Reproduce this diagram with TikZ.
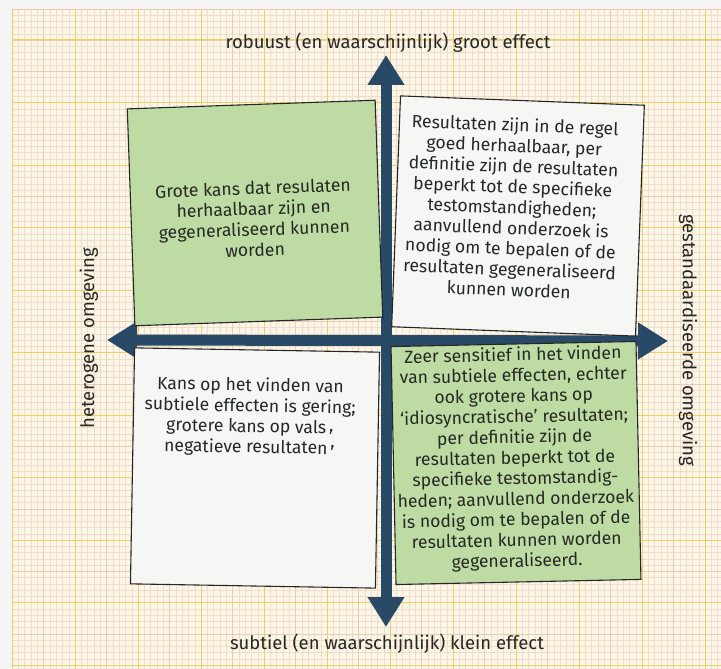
\documentclass[tikz,border=0pt]{standalone}
\usepackage{fontspec}
\setmainfont{Fira Sans}
\usetikzlibrary{arrows.meta, positioning}
\definecolor{paper}{RGB}{252, 246, 231}
\definecolor{gridminor}{RGB}{240, 220, 204}
\definecolor{gridmid}{RGB}{233, 204, 180}
\definecolor{gridmajor}{RGB}{242, 206, 104}
\definecolor{axisblue}{RGB}{41, 74, 103}
\definecolor{notegreen}{RGB}{189, 219, 163}
\definecolor{notewhite}{RGB}{246, 246, 244}
\definecolor{ink}{RGB}{38, 40, 36}

\begin{document}
\begin{tikzpicture}[
    x=1pt, y=-1pt,
    % Styles embedded for portability
    axis/.style={draw=axisblue, line width=11pt,
        {Triangle[width=35pt, length=30pt]}-{Triangle[width=35pt, length=30pt]}},
    axislabel/.style={font=\fontsize{18.5}{22}\selectfont, text=ink, inner sep=0pt},
    note/.style={draw=black!85, line width=1.1pt, inner sep=0pt},
    note_green/.style={note, fill=notegreen},
    note_white/.style={note, fill=notewhite},
    notetext/.style={align=center, inner sep=0pt, text=ink, font=\fontsize{17.6}{20.6}\selectfont}
]

    \useasboundingbox (0,0) rectangle (721,669);

    % --- GRAPH PAPER ---
    \fill[black!4] (0,0) rectangle (721,669);
    \fill[paper] (12,10) rectangle (721,669);
    \foreach \i in {0,...,112}
        \draw[gridminor, line width=0.3pt] ({12+\i*6.3},10) -- ({12+\i*6.3},669);
    \foreach \j in {0,...,105}
        \draw[gridminor, line width=0.3pt] (12,{8.75+\j*6.25}) -- (721,{8.75+\j*6.25});
    \foreach \i in {0,...,22}
        \draw[gridmid, line width=0.45pt] ({12+\i*31.5},10) -- ({12+\i*31.5},669);
    \foreach \j in {0,...,21}
        \draw[gridmid, line width=0.45pt] (12,{8.75+\j*31.25}) -- (721,{8.75+\j*31.25});
    \foreach \i in {0,...,11}
        \draw[gridmajor, line width=1pt] ({12+\i*63},10) -- ({12+\i*63},669);
    \foreach \j in {0,...,10}
        \draw[gridmajor, line width=1pt] (12,{40+\j*62.5}) -- (721,{40+\j*62.5});

    % --- AXES ---
    \coordinate (ytop) at (386,55);
    \coordinate (ybot) at (386,627);
    \coordinate (xleft) at (107,340);
    \coordinate (xright) at (668,341);
    \draw[axis] (ybot) -- (ytop);
    \draw[axis] (xleft) -- (xright);

    \node[axislabel, anchor=base] (groot) at (388,49) {robuust (en waarschijnlijk) groot effect};
    \node[axislabel, anchor=base] (klein) at (387,649) {subtiel (en waarschijnlijk) klein effect};
    \node[axislabel, rotate=90] (heterogeen) at (89,338) {heterogene omgeving};
    \node[axislabel, rotate=-90] (standaard) at (688,340) {gestandaardiseerde omgeving};

    % --- QUADRANTS ---
    \node[note_green, minimum width=248pt, minimum height=217pt, rotate=2] (q_tl) at (255,213) {};
    \node[note_white, minimum width=244pt, minimum height=231pt, rotate=-2.2] (q_tr) at (518,216) {};
    \node[note_white, minimum width=245pt, minimum height=236pt, rotate=-1] (q_bl) at (255,468) {};
    \node[note_green, minimum width=245pt, minimum height=238pt, rotate=1.2] (q_br) at (516,463) {};

    \node[notetext, rotate=2] (t_tl) at (254,219)
        {Grote kans dat resulaten\\herhaalbaar zijn en\\gegeneraliseerd kunnen\\worden};
    \node[notetext, rotate=-2.2] (t_tr) at (512,207)
        {Resultaten zijn in de regel\\goed herhaalbaar, per\\definitie zijn de resultaten\\beperkt tot de specifieke\\testomstandigheden;\\aanvullend onderzoek is\\nodig om te bepalen of de\\resultaten gegeneraliseerd\\kunnen worden};
    \node[notetext, rotate=-1] (t_bl) at (250,417)
        {Kans op het vinden van\\subtiele effecten is gering;\\grotere kans op vals\,\raisebox{2pt}{,}\\negatieve resultaten\,\raisebox{7pt}{,}};
    \node[notetext, rotate=1.2] (t_br) at (515,459)
        {Zeer sensitief in het vinden\\van subtiele effecten, echter\\ook grotere kans op\\`idiosyncratische' resultaten;\\per definitie zijn de\\resultaten beperkt tot de\\specifieke testomstandig-\\heden; aanvullend onderzoek\\is nodig om te bepalen of de\\resultaten kunnen worden\\gegeneraliseerd.};

\end{tikzpicture}
\end{document}
